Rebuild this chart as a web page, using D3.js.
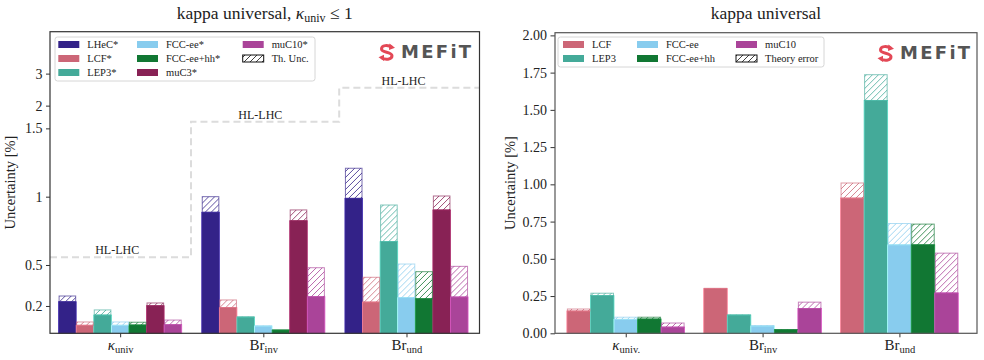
<!DOCTYPE html>
<html lang="en">
    <head>
        <meta charset="utf-8">
        <title>kappa universal</title>
        <script type="text/javascript" src="https://cdn.jsdelivr.net/npm/d3@7/dist/d3.min.js"></script>
        <style>
            body { margin: 0; background: #fff; }
            svg text { font-family: "Liberation Serif", "DejaVu Serif", serif; fill: #222; }
            .axis text { font-size: 14px; }
            .axis line { stroke: #333; }
            .legend text { font-size: 10.5px; }
        </style>
    </head>
    <body>
        <script type="text/javascript">
            var w = 984;
            var h = 360;

            // ---- data ----
            var xMain = ["κ", "Br", "Br"];
            var xSubLeft = ["univ", "inv", "und"];
            var xSubRight = ["univ.", "inv", "und"];

            var leftSeries = ["LHeC*", "LCF*", "LEP3*", "FCC-ee*", "FCC-ee+hh*", "muC3*", "muC10*"];
            var leftColors = ["#332288", "#CC6677", "#44AA99", "#88CCEE", "#117733", "#882255", "#AA4499"];
            var leftValues = [
                [0.231, 0.886, 0.988],
                [0.059, 0.188, 0.229],
                [0.134, 0.119, 0.671],
                [0.059, 0.053, 0.261],
                [0.061, 0.024, 0.253],
                [0.202, 0.824, 0.903],
                [0.063, 0.268, 0.266]
            ];
            var leftThErr = [
                [0.042, 0.114, 0.220],
                [0.024, 0.056, 0.181],
                [0.037, 0.002, 0.268],
                [0.024, 0.002, 0.246],
                [0.020, 0.001, 0.198],
                [0.020, 0.079, 0.102],
                [0.034, 0.212, 0.224]
            ];
            var leftYTicks = [0.2, 0.5, 1, 1.5, 2, 3];
            var hlLevels = [0.556, 1.63, 2.51];
            var hlEdges = [-0.49, 0.495, 1.53, 2.51];

            var rightSeries = ["LCF", "LEP3", "FCC-ee", "FCC-ee+hh", "muC10"];
            var rightColors = ["#CC6677", "#44AA99", "#88CCEE", "#117733", "#AA4499"];
            var rightValues = [
                [0.150, 0.300, 0.908],
                [0.253, 0.123, 1.563],
                [0.094, 0.049, 0.594],
                [0.096, 0.024, 0.594],
                [0.042, 0.166, 0.271]
            ];
            var rightThErr = [
                [0.013, 0.002, 0.101],
                [0.016, 0.001, 0.173],
                [0.014, 0.003, 0.143],
                [0.012, 0.001, 0.139],
                [0.027, 0.043, 0.267]
            ];
            var rightYTicks = [0, 0.25, 0.5, 0.75, 1, 1.25, 1.5, 1.75, 2];

            var svg = d3.select("body").append("svg").attr("width", w).attr("height", h);
            var defs = svg.append("defs");

            // hatched box: diagonal lines clipped to the box, then the outline
            var clipCount = 0;
            function hatchBox(g, x, y, bw, bh, color, edgeOpacity) {
                var cid = "hclip" + (clipCount++);
                defs.append("clipPath").attr("id", cid).append("rect")
                    .attr("x", x).attr("y", y).attr("width", bw).attr("height", bh);
                var hg = g.append("g").attr("clip-path", "url(#" + cid + ")");
                var step = 6;
                var start = -bh - ((x + y + bh) % step);
                for (var k = start; k < bw + step; k += step) {
                    hg.append("line")
                      .attr("x1", x + k).attr("y1", y + bh + 1)
                      .attr("x2", x + k + bh + 2).attr("y2", y - 1)
                      .attr("stroke", color).attr("stroke-width", 1).attr("stroke-opacity", 0.8);
                }
                g.append("rect").attr("x", x).attr("y", y).attr("width", bw).attr("height", bh)
                 .attr("fill", "none").attr("stroke", color)
                 .attr("stroke-opacity", edgeOpacity).attr("stroke-width", 1);
            }

            // ---- panel geometry ----
            var L = {x0: 50, x1: 479.5, y0: 31.7, y1: 333.3};
            var R = {x0: 555, x1: 977, y0: 32.7, y1: 333.3};

            // left: linear up to 1.5, log above
            var ySplit = L.y1 - 0.6795 * (L.y1 - L.y0);
            var yLin = d3.scaleLinear().domain([0, 1.5]).range([L.y1, ySplit]);
            var yLog = d3.scaleLog().domain([1.5, 5.1]).range([ySplit, L.y0]);
            function yLeft(v) { return v <= 1.5 ? yLin(v) : yLog(v); }
            var xLeft = d3.scaleLinear().domain([-0.49, 2.51]).range([L.x0, L.x1]);

            var yRight = d3.scaleLinear().domain([0, 2.018]).range([R.y1, R.y0]);
            var xRight = d3.scaleLinear().domain([-0.517, 2.567]).range([R.x0, R.x1]);

            function drawBars(g, x, y, values, errs, colors) {
                var n = values.length;
                var bw = 0.86 / n;
                var data = [];
                values.forEach(function (row, s) {
                    row.forEach(function (v, c) {
                        data.push({s: s, c: c, v: v, e: errs[s][c]});
                    });
                });
                function x0(d) { return x(d.c + (d.s - (n - 1) / 2) * bw - bw / 2); }
                var pw = x(bw) - x(0);
                g.append("g").selectAll("rect").data(data).enter().append("rect")
                 .attr("x", x0)
                 .attr("width", pw)
                 .attr("y", function (d) { return y(d.v); })
                 .attr("height", function (d) { return y(0) - y(d.v); })
                 .attr("fill", function (d) { return colors[d.s]; })
                 .attr("stroke", function (d) { return d3.color(colors[d.s]).brighter(0.7); })
                 .attr("stroke-width", 0.8);
                var hg = g.append("g");
                data.filter(function (d) { return d.e > 0; }).forEach(function (d) {
                    var top = y(d.v + d.e);
                    hatchBox(hg, x0(d) + 0.5, top, pw - 1, y(d.v) - top, colors[d.s], 0.65);
                });
            }

            function xTicks(g, x, P, subs) {
                var ax = g.append("g").attr("class", "axis")
                          .attr("transform", "translate(0," + P.y1 + ")")
                          .call(d3.axisBottom(x).tickValues([0, 1, 2]).tickSize(4).tickFormat(""));
                ax.select(".domain").remove();
                ax.selectAll(".tick").each(function (d) {
                    var t = d3.select(this).append("text").attr("y", 17).attr("fill", "#222")
                              .attr("text-anchor", "middle");
                    t.append("tspan").text(xMain[d]).attr("font-style", d === 0 ? "italic" : null)
                     .attr("font-size", "15px");
                    t.append("tspan").text(subs[d]).attr("font-size", "10.5px").attr("dy", 3);
                });
            }

            function yLabel(x, P) {
                svg.append("text").attr("transform", "translate(" + x + "," + ((P.y0 + P.y1) / 2) + ") rotate(-90)")
                   .attr("text-anchor", "middle").attr("font-size", "14.5px").text("Uncertainty [%]");
            }

            function frame(P, col) {
                svg.append("rect").attr("x", P.x0).attr("y", P.y0)
                   .attr("width", P.x1 - P.x0).attr("height", P.y1 - P.y0)
                   .attr("fill", "none").attr("stroke", col).attr("stroke-width", 1.2);
            }

            function logo(x, y) {
                var g = svg.append("g").attr("transform", "translate(" + x + "," + y + ")");
                g.append("path").attr("d", "M14,4.5 C10,1.5 3.5,2 3.5,6 C3.5,9.8 14,8.7 14,12.8 C14,16.8 7,17.2 3.5,14.6")
                 .attr("fill", "none").attr("stroke", "#E34856").attr("stroke-width", 3);
                g.append("path").attr("d", "M11.5,0.5 L17,4.8 L11,7 Z").attr("fill", "#E34856");
                g.append("path").attr("d", "M6,11.8 L0.5,14.3 L6,18 Z").attr("fill", "#E34856");
                g.append("text").attr("x", 23).attr("y", 14.5)
                 .style("font-family", "'DejaVu Sans', sans-serif").style("font-weight", "bold")
                 .style("font-size", "18px").style("letter-spacing", "2.3px").style("fill", "#555")
                 .text("MEFiT");
            }

            function legend(x, y, wd, ht, cols, names, colors, hatchName) {
                var g = svg.append("g").attr("class", "legend");
                g.append("rect").attr("x", x).attr("y", y).attr("width", wd).attr("height", ht)
                 .attr("rx", 2.5).attr("fill", "#fff").attr("fill-opacity", 0.85)
                 .attr("stroke", "#d6d6d6").attr("stroke-width", 1);
                var items = names.map(function (nm, i) { return {name: nm, color: colors[i], hatch: false}; });
                items.push({name: hatchName, color: "#111", hatch: true});
                var perCol = Math.ceil(items.length / cols.length);
                items.forEach(function (it, i) {
                    var ci = Math.floor(i / perCol), ri = i % perCol;
                    var px = x + cols[ci], py = y + 4 + ri * 14;
                    if (it.hatch) {
                        hatchBox(g, px, py, 21, 7, "#111", 1);
                    } else {
                        g.append("rect").attr("x", px).attr("y", py).attr("width", 21).attr("height", 7)
                         .attr("fill", it.color);
                    }
                    g.append("text").attr("x", px + 29).attr("y", py + 7).text(it.name);
                });
            }

            // ================= left panel =================
            var gl = svg.append("g");
            var hlPts = [];
            hlLevels.forEach(function (v, i) {
                hlPts.push([hlEdges[i], v]);
                hlPts.push([hlEdges[i + 1], v]);
            });
            gl.append("path")
              .attr("d", d3.line().x(function (d) { return xLeft(d[0]); }).y(function (d) { return yLeft(d[1]); })(hlPts))
              .attr("fill", "none").attr("stroke", "#dcdcdc").attr("stroke-width", 2)
              .attr("stroke-dasharray", "7,4");
            hlLevels.forEach(function (v, i) {
                gl.append("text").attr("x", xLeft(i) - 3).attr("y", yLeft(v) - 3)
                  .attr("text-anchor", "middle").attr("font-size", "12px").text("HL-LHC");
            });

            drawBars(gl, xLeft, yLeft, leftValues, leftThErr, leftColors);

            var ayl = gl.append("g").attr("class", "axis").attr("transform", "translate(" + L.x0 + ",0)");
            ayl.append("g").call(d3.axisLeft(yLin).tickValues(leftYTicks.filter(function (t) { return t <= 1.5; }))
                                 .tickSize(4).tickPadding(3.5).tickFormat(d3.format("~g")));
            ayl.append("g").call(d3.axisLeft(yLog).tickValues(leftYTicks.filter(function (t) { return t > 1.5; }))
                                 .tickSize(4).tickPadding(3.5).tickFormat(d3.format("~g")));
            ayl.selectAll(".domain").remove();

            xTicks(gl, xLeft, L, xSubLeft);
            frame(L, "#333");
            yLabel(15, L);

            var tl = svg.append("text").attr("x", (L.x0 + L.x1) / 2).attr("y", 18.5)
                        .attr("text-anchor", "middle").attr("font-size", "17.5px");
            tl.append("tspan").text("kappa universal,  ");
            tl.append("tspan").text("κ").attr("font-style", "italic");
            tl.append("tspan").text("univ").attr("font-size", "12px").attr("dy", 3);
            tl.append("tspan").text(" ≤ 1").attr("dy", -3);

            legend(55, 37, 260, 44, [3.3, 82, 187.7], leftSeries, leftColors, "Th. Unc.");
            logo(378, 43);

            // ================= right panel =================
            var gr = svg.append("g");
            drawBars(gr, xRight, yRight, rightValues, rightThErr, rightColors);

            var ayr = gr.append("g").attr("class", "axis").attr("transform", "translate(" + R.x0 + ",0)")
                        .call(d3.axisLeft(yRight).tickValues(rightYTicks).tickSize(4.5).tickPadding(3.5)
                                .tickFormat(d3.format(".2f")));
            ayr.select(".domain").remove();

            xTicks(gr, xRight, R, xSubRight);
            frame(R, "#555");
            yLabel(515, R);

            svg.append("text").attr("x", (R.x0 + R.x1) / 2).attr("y", 18.5)
               .attr("text-anchor", "middle").attr("font-size", "17.5px").text("kappa universal");

            legend(558, 37, 266, 30, [5, 79, 178], rightSeries, rightColors, "Theory error");
            logo(877, 44);
        </script>
    </body>
</html>
